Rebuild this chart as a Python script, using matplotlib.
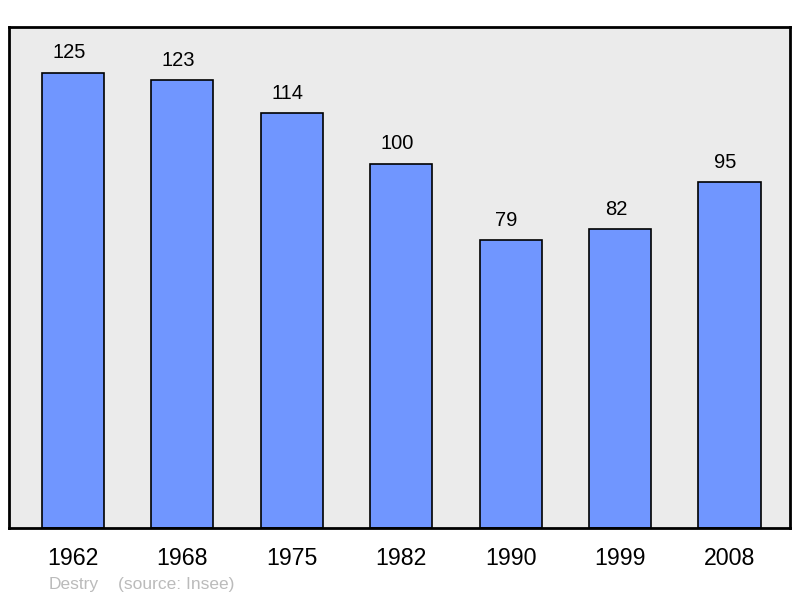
import matplotlib
matplotlib.use('Agg')
from matplotlib import pyplot as plt

plt.rcParams['font.family'] = ['Liberation Sans', 'DejaVu Sans']

years = ['1962', '1968', '1975', '1982', '1990', '1999', '2008']
population = [125, 123, 114, 100, 79, 82, 95]

fig = plt.figure(figsize=(8, 5.98), dpi=100)
ax = fig.add_axes([9/800, 1 - 528/598, 781/800, 501/598])
ax.set_facecolor('#ebebeb')

x = list(range(len(years)))
bars = ax.bar(x, population, width=0.567, color='#7096ff', edgecolor='black', linewidth=1.2, zorder=2)

# value labels sit a bit left of the bar centres in the original
for b, v in zip(bars, population):
    ax.annotate(str(v), (b.get_x() + b.get_width()/2, v), xytext=(-3, 7.5), textcoords='offset points',
                ha='center', va='bottom', fontsize=14.5, color='black')

ax.set_xlim(-0.585, 6.553)
ax.set_ylim(0, 137.6)
ax.set_xticks(x)
ax.set_xticklabels(years, fontsize=16.7)
ax.tick_params(axis='x', length=0, pad=13.5)
ax.set_yticks([])
for s in ax.spines.values():
    s.set_linewidth(2)
    s.set_color('black')

fig.text(49/800, 1 - 584/598, 'Destry', fontsize=12.5, color='#bbbbbb', va='center', ha='left')
fig.text(118/800, 1 - 584/598, '(source: Insee)', fontsize=12.5, color='#bbbbbb', va='center', ha='left')

fig.savefig('out.png', dpi=100)
